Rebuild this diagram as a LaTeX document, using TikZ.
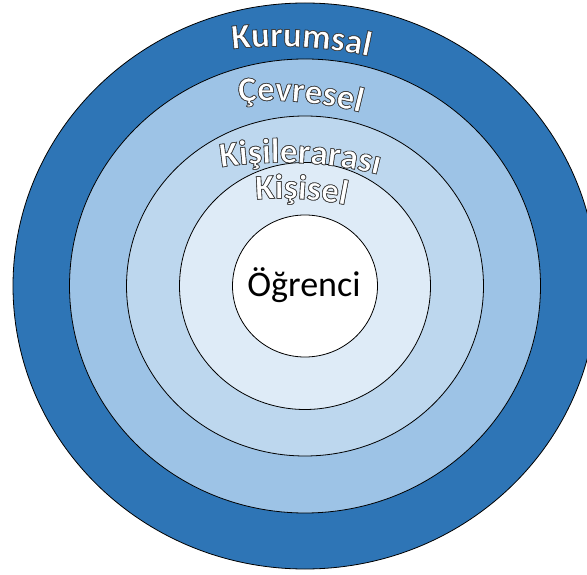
\documentclass[tikz,border=0pt]{standalone}
\usepackage{fontspec}
\setmainfont{Carlito}
\newfontfamily\fArc[FakeBold=1.8, UprightFont={* Bold}]{Carlito}
\usetikzlibrary{decorations.text,calc}
\definecolor{bandA}{HTML}{2E75B6}
\definecolor{bandB}{HTML}{9DC3E6}
\definecolor{bandC}{HTML}{BDD7EE}
\definecolor{bandD}{HTML}{DEEBF7}
\newcommand\wordart{\special{pdf:bcolor [1 1 1] [0.25 0.25 0.25]}}
% #1 mid x, #2 mid baseline y, #3 radius, #4 tilt, #5 font, #6 text, #7 name
\newcommand\archlabel[7]{%
  \coordinate (#7) at ($(#1,#2)+({-#3*sin(#4)},{-#3*cos(#4)})$);
  \path[shift={(1.4,-1.6)}, opacity=0.3, decorate, decoration={text along path, text color=black, text align=center, text={|#5|#6}}]
    ($(#7)+({90-#4+25}:#3)$) arc[start angle={90-#4+25}, end angle={90-#4-25}, radius=#3];
  \path[decorate, decoration={text along path, text align=center, text={|#5\wordart|#6}}]
    ($(#7)+({90-#4+25}:#3)$) arc[start angle={90-#4+25}, end angle={90-#4-25}, radius=#3];
}
\begin{document}
\begin{tikzpicture}[x=1pt,y=1pt, ring/.style={draw=black, line width=0.8pt}]
\useasboundingbox (0,0) rectangle (587,574);
\clip (0,0) rectangle (587,574);
\coordinate (ctr) at (305,288);
\draw[ring, fill=bandA] (ctr) ellipse [x radius=292, y radius=283];
\draw[ring, fill=bandB] (ctr) ellipse [x radius=235.5, y radius=227];
\draw[ring, fill=bandC] (ctr) ellipse [x radius=178.5, y radius=170];
\draw[ring, fill=bandD] (ctr) ellipse [x radius=125.5, y radius=123.5];
\draw[ring, fill=white] (ctr) ellipse [x radius=72.5, y radius=71];
\node[font=\fontsize{36}{40}\selectfont, anchor=base, inner sep=0pt] (ogr) at (304,277) {Öğrenci};
\archlabel{301}{527}{420}{3}{\fArc\fontsize{35}{40}\selectfont}{Kurumsal}{cKur}
\archlabel{300}{472}{380}{5}{\fArc\fontsize{35}{40}\selectfont}{Çevresel}{cCev}
\archlabel{300}{411}{400}{2.6}{\fArc\fontsize{35}{40}\selectfont}{Kişilerarası}{cKia}
\archlabel{301}{375}{320}{3.4}{\fArc\fontsize{35}{40}\selectfont}{Kişisel}{cKis}
\end{tikzpicture}
\end{document}
